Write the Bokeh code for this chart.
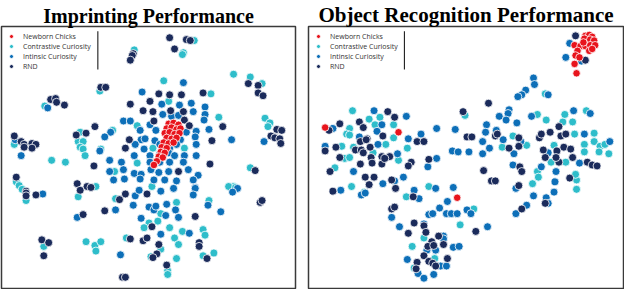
from bokeh.plotting import figure
from bokeh.models import Range1d, Legend, LegendItem, BoxAnnotation
from bokeh.layouts import row
from bokeh.embed import file_html
from bokeh.resources import INLINE

# ---------------- data (t-SNE embeddings, arbitrary units) ----------
series_names = ["Newborn Chicks", "Contrastive Curiosity", "Intinsic Curiosity", "RND"]
series_colors = ["#e8141c", "#2ebdca", "#0d6fb8", "#1b2b5b"]
titles = ["Imprinting Performance", "Object Recognition Performance"]

imp_chicks = [(172,126),(177,125),(182,127),(170,131),(175,130),(180,132),(184,131),(168,136),(173,135),
    (178,137),(183,136),(170,141),(175,142),(180,141),(167,146),(172,147),(177,146),(165,151),(170,152),
    (164,156),(168,157),(162,161),(166,162),(160,166),(157,170)]
imp_contrastive = [(167,80),(267,83),(102,91),(215,94),(46,107),(172,102),(223,119),(140,128),(270,120),
    (275,125),(273,129),(115,133),(82,135),(80,145),(85,145),(82,151),(85,153),(87,160),(103,153),(15,148),
    (156,152),(188,152),(53,165),(67,167),(140,168),(255,173),(117,177),(17,188),(20,192),(98,193),(155,193),
    (238,193),(198,37),(187,50),(186,52),(137,47),(238,73),(255,76),(23,196),(27,208),(80,204),(233,193),
    (240,194),(118,206),(180,210),(213,208),(164,222),(152,232),(161,230),(147,237),(173,237),(186,241),
    (207,239),(209,245),(45,257),(88,252),(97,256),(103,252),(98,262),(129,248),(178,248),(182,255),(218,264),
    (164,260),(154,268),(180,270),(207,267),(171,283),(171,287)]
imp_intrinsic = [(187,82),(145,92),(49,109),(165,105),(183,106),(195,104),(209,108),(166,116),(175,118),
    (182,117),(197,113),(209,116),(126,123),(133,123),(208,122),(153,127),(113,135),(143,133),(159,133),
    (190,135),(200,134),(213,132),(16,143),(107,140),(144,143),(148,142),(158,144),(184,143),(199,140),
    (236,143),(269,145),(102,155),(138,148),(147,153),(163,148),(173,152),(180,148),(200,148),(22,160),
    (137,160),(153,160),(163,158),(172,157),(178,160),(188,160),(200,160),(112,165),(124,167),(153,167),
    (163,167),(173,167),(187,167),(112,177),(126,175),(137,179),(144,180),(154,175),(162,178),(172,177),
    (192,175),(202,181),(116,186),(127,185),(143,185),(157,186),(168,186),(180,187),(197,186),(199,194),
    (242,195),(44,201),(177,195),(199,195),(237,199),(138,203),(142,197),(164,198),(197,202),(136,213),
    (152,215),(157,218),(159,214),(170,212),(179,218),(212,213),(79,226),(118,218),(169,224),(182,226),
    (225,220),(144,227),(193,243),(164,244),(123,266)]
imp_rnd = [(253,83),(263,85),(103,87),(108,87),(162,94),(173,95),(185,95),(207,93),(263,93),(268,96),
    (52,100),(57,99),(58,103),(66,106),(133,105),(153,102),(146,112),(156,113),(174,112),(187,113),(157,123),
    (188,122),(97,129),(193,128),(227,129),(282,132),(287,133),(15,139),(88,136),(78,138),(132,143),(216,144),
    (276,139),(280,141),(285,142),(286,147),(22,145),(25,148),(33,147),(37,148),(33,152),(25,151),(128,152),
    (214,169),(96,171),(260,176),(182,177),(17,183),(79,190),(89,193),(27,198),(173,34),(190,36),(194,37),
    (178,46),(136,51),(135,53),(133,58),(27,200),(27,203),(37,202),(93,194),(82,197),(128,201),(150,201),
    (122,207),(265,210),(267,208),(85,223),(107,219),(199,225),(155,236),(43,250),(50,253),(45,267),
    (133,249),(146,251),(150,248),(162,255),(203,253),(203,257),(160,265),(156,269),(211,270),(170,277),
    (125,290),(128,290)]

obj_chicks = [(598,32),(602,31),(605,33),(597,35),(603,36),(607,37),(587,42),(593,43),(598,43),(603,42),
    (602,48),(590,48),(588,53),(592,55),(587,62),(589,72),(608,42),(596,39),(605,46),(332,130),(407,135),
    (467,205)]
obj_contrastive = [(557,94),(360,112),(475,117),(388,119),(377,121),(549,116),(558,122),(575,124),(585,124),
    (577,116),(599,112),(357,131),(383,127),(402,127),(354,137),(357,138),(402,141),(524,139),(587,137),
    (607,136),(607,145),(349,150),(361,151),(381,157),(394,148),(416,152),(352,163),(357,162),(407,165),
    (513,151),(538,149),(566,149),(597,148),(597,156),(613,150),(618,148),(622,158),(612,156),(578,167),
    (563,167),(549,177),(589,186),(588,180),(342,173),(359,193),(438,193),(544,190),(550,183),(372,199),
    (415,204),(589,196),(484,217),(470,234),(433,248),(421,257),(444,270),(423,280)]
obj_intrinsic = [(582,40),(578,55),(594,59),(545,77),(546,84),(537,90),(533,95),(529,97),(560,95),(382,112),
    (415,118),(520,111),(519,115),(510,118),(517,122),(528,125),(497,127),(507,133),(543,118),(586,112),
    (603,115),(340,131),(390,127),(385,134),(430,137),(446,131),(465,132),(367,140),(417,142),(493,145),
    (496,135),(514,143),(532,145),(597,137),(623,145),(332,150),(386,148),(406,158),(446,163),(437,172),
    (462,155),(468,156),(479,156),(493,158),(500,152),(525,158),(560,157),(592,168),(524,170),(553,172),
    (568,177),(567,188),(361,177),(403,187),(412,183),(391,190),(445,195),(463,194),(348,197),(369,202),
    (373,200),(423,197),(428,206),(527,195),(566,199),(545,203),(558,205),(560,211),(538,213),(527,222),
    (457,209),(449,216),(400,226),(438,223),(442,222),(456,222),(461,222),(467,222),(477,218),(481,222),
    (408,236),(433,233),(498,236),(453,246),(453,249),(436,261),(445,261),(463,258),(469,257),(416,271),
    (450,278),(456,278),(427,286),(433,291),(443,287)]
obj_rnd = [(588,32),(598,58),(499,104),(396,113),(403,119),(367,124),(347,126),(473,113),(571,129),(336,133),
    (371,130),(375,142),(391,139),(426,145),(433,145),(477,140),(482,140),(506,139),(508,137),(530,141),
    (551,141),(553,137),(562,135),(573,139),(578,137),(332,155),(343,151),(368,145),(374,143),(378,151),
    (363,154),(369,154),(347,162),(371,157),(379,162),(390,161),(398,161),(368,169),(380,168),(390,169),
    (393,163),(420,167),(417,171),(438,164),(520,152),(530,150),(555,154),(569,155),(576,151),(583,153),
    (585,162),(571,167),(557,162),(568,162),(600,167),(605,170),(610,171),(494,176),(531,172),(533,177),
    (582,184),(337,177),(373,183),(382,183),(400,186),(377,191),(404,195),(502,187),(506,187),(530,192),
    (340,198),(422,204),(557,211),(533,217),(400,217),(403,215),(423,232),(433,235),(417,243),(435,242),
    (486,241),(441,252),(448,246),(437,257),(443,256),(453,255),(426,274),(433,267),(438,273),(442,275),
    (445,278),(457,270),(425,281)]

panels = [
    dict(title=titles[0], series=[imp_chicks, imp_contrastive, imp_intrinsic, imp_rnd],
         xr=(2, 301), yr=(302, 22), width=303, mbl=1, mbr=8, tsize="20px"),
    dict(title=titles[1], series=[obj_chicks, obj_contrastive, obj_intrinsic, obj_rnd],
         xr=(315, 637), yr=(302, 22), width=321, mbl=5, mbr=1, tsize="21px"),
]


def make_panel(cfg):
    p = figure(width=cfg["width"], height=289, x_range=Range1d(*cfg["xr"]), y_range=Range1d(*cfg["yr"]),
               output_backend="svg", toolbar_location=None, x_axis_location=None, y_axis_location=None,
               min_border_left=cfg["mbl"], min_border_right=cfg["mbr"], min_border_top=0, min_border_bottom=1)
    p.grid.visible = False
    p.outline_line_color = "#3a3a3a"
    p.outline_line_width = 1.5
    p.background_fill_color = "white"
    p.border_fill_color = "white"
    p.title.text = cfg["title"]
    p.title.text_font = "Liberation Serif"
    p.title.text_font_style = "bold"
    p.title.text_font_size = cfg["tsize"]
    p.title.align = "center"
    p.title.standoff = 0
    p.title.text_color = "black"

    order = [1, 2, 3, 0]
    rmap = {}
    for i in order:
        pts = cfg["series"][i]
        xs = [a for a, b in pts]
        ys = [b for a, b in pts]
        r = p.scatter(xs, ys, size=7.5 if i == 0 else 8, fill_color=series_colors[i],
                      line_color="white", line_width=0.8)
        rmap[i] = r
    items = [LegendItem(label=series_names[i], renderers=[rmap[i]]) for i in range(4)]
    leg = Legend(items=items, location="top_left", margin=0, padding=5, spacing=0,
                 glyph_width=10, glyph_height=10, label_height=10, label_standoff=7,
                 label_text_font="Open Sans", label_text_font_size="7px", label_text_color="#333333",
                 border_line_alpha=0, background_fill_alpha=0)
    p.add_layout(leg, "center")
    x0 = cfg["xr"][0]
    p.add_layout(BoxAnnotation(left=x0 + 97.5, right=x0 + 98.5, top=27, bottom=68,
                               fill_color="black", fill_alpha=1, line_alpha=0))
    return p


lay = row(*[make_panel(c) for c in panels])
open("out.html", "w").write(file_html(lay, INLINE))
